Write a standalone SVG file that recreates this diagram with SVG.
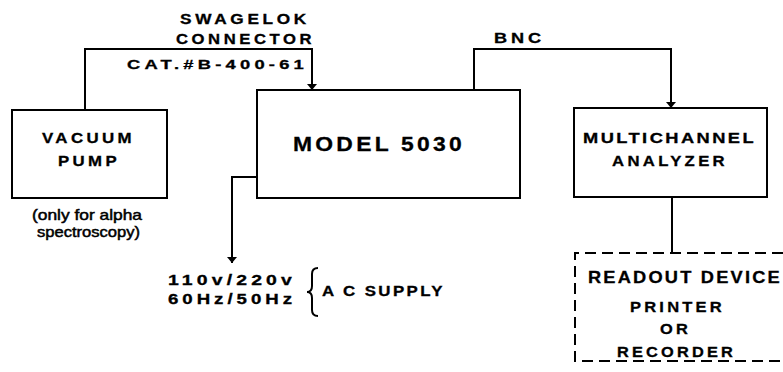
<svg xmlns="http://www.w3.org/2000/svg" width="783" height="372" viewBox="0 0 783 372">
<style>
.box{fill:none;stroke:#000;stroke-width:2}
.dash{fill:none;stroke:#000;stroke-width:2;stroke-dasharray:11 6}
.ln{fill:none;stroke:#000;stroke-width:2}
text{font-family:"Liberation Sans",Arial,sans-serif;font-weight:bold;fill:#000;stroke:#000;stroke-width:0.3}
.n{font-weight:normal;stroke-width:0.5}
.s3{letter-spacing:3px}
.s2{letter-spacing:2px}
</style>
<defs>
<marker id="ah" viewBox="0 0 6 10" refX="6" refY="5" markerWidth="3.5" markerHeight="5" orient="auto" markerUnits="strokeWidth">
<path d="M0,0 L6,5 L0,10 Z" fill="#000"/>
</marker>
</defs>
<rect width="783" height="372" fill="#fff"/>
<g id="connectors">
<path class="ln" d="M85,110 V49 H312 V90" marker-end="url(#ah)"/>
<path class="ln" d="M474,90 V49 H671 V108" marker-end="url(#ah)"/>
<path class="ln" d="M257,177 H232 V263" marker-end="url(#ah)"/>
<path class="ln" d="M672,197 V253"/>
<text class="s3" x="180" y="24" font-size="14" textLength="130" lengthAdjust="spacingAndGlyphs">SWAGELOK</text>
<text class="s3" x="176" y="44" font-size="14" textLength="139" lengthAdjust="spacingAndGlyphs">CONNECTOR</text>
<text class="s3" x="127" y="69" font-size="13" textLength="181" lengthAdjust="spacingAndGlyphs">CAT.#B-400-61</text>
<text class="s3" x="494" y="43" font-size="14" textLength="51" lengthAdjust="spacingAndGlyphs">BNC</text>
</g>
<g id="vacuum-pump">
<rect class="box" x="12" y="110" width="155" height="88"/>
<text class="s3" x="42" y="143" font-size="15" textLength="93" lengthAdjust="spacingAndGlyphs">VACUUM</text>
<text class="s3" x="58" y="166" font-size="15" textLength="62" lengthAdjust="spacingAndGlyphs">PUMP</text>
<text class="n" x="32" y="220" font-size="15" textLength="110" lengthAdjust="spacingAndGlyphs">(only for alpha</text>
<text class="n" x="37" y="237" font-size="15" textLength="103" lengthAdjust="spacingAndGlyphs">spectroscopy)</text>
</g>
<g id="model-5030">
<rect class="box" x="257" y="90" width="263" height="108"/>
<text class="s3" x="293" y="151" font-size="21" textLength="172" lengthAdjust="spacingAndGlyphs">MODEL 5030</text>
</g>
<g id="multichannel-analyzer">
<rect class="box" x="574" y="108" width="193" height="89"/>
<text class="s2" x="583" y="143" font-size="15" textLength="173" lengthAdjust="spacingAndGlyphs">MULTICHANNEL</text>
<text class="s3" x="612" y="166" font-size="15" textLength="116" lengthAdjust="spacingAndGlyphs">ANALYZER</text>
</g>
<g id="ac-supply">
<text class="s3" x="168" y="285" font-size="14" textLength="128" lengthAdjust="spacingAndGlyphs">110v/220v</text>
<text class="s3" x="168" y="304" font-size="14" textLength="128" lengthAdjust="spacingAndGlyphs">60Hz/50Hz</text>
<path class="ln" d="M318,268 Q312,268 312,274 V286 Q312,292 307,292 Q312,292 312,298 V310 Q312,316 318,316" stroke-width="1.8"/>
<text class="s2" x="322" y="296" font-size="14" textLength="123" lengthAdjust="spacingAndGlyphs">A C SUPPLY</text>
</g>
<g id="readout-device">
<path class="dash" d="M800,253 H575 V361 H800"/>
<text class="s2" x="588" y="283" font-size="16.5" textLength="194" lengthAdjust="spacingAndGlyphs">READOUT DEVICE</text>
<text class="s3" x="630" y="312" font-size="15.5" textLength="95" lengthAdjust="spacingAndGlyphs">PRINTER</text>
<text class="s3" x="660" y="334" font-size="15.5" textLength="31" lengthAdjust="spacingAndGlyphs">OR</text>
<text class="s3" x="617" y="357" font-size="15.5" textLength="119" lengthAdjust="spacingAndGlyphs">RECORDER</text>
</g>
</svg>
